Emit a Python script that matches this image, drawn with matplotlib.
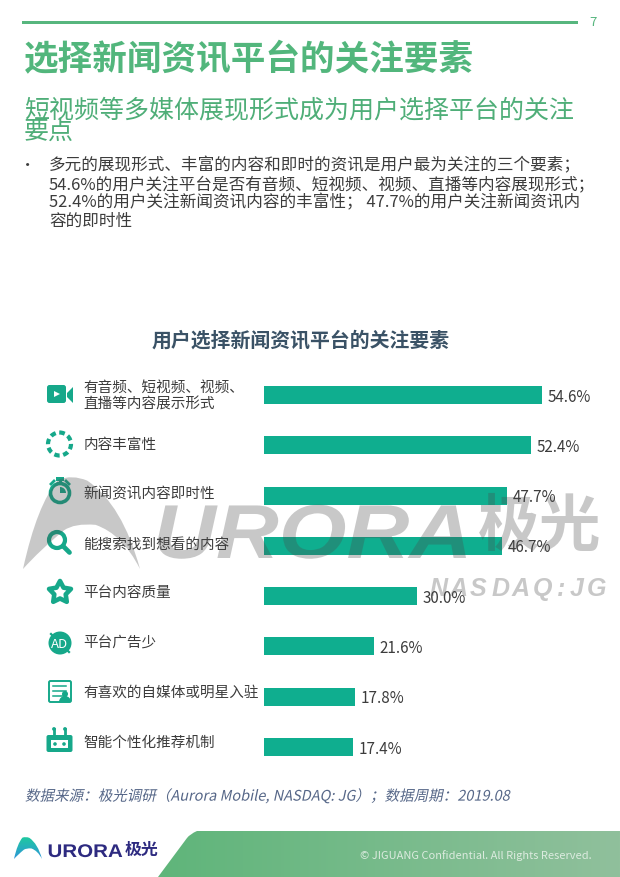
import numpy as np
import matplotlib
matplotlib.use('Agg')
import matplotlib.pyplot as plt
from matplotlib.colors import LinearSegmentedColormap
from matplotlib.patches import Circle, Polygon, PathPatch, FancyBboxPatch, Wedge, Rectangle
from matplotlib.path import Path
from matplotlib.transforms import Affine2D
from matplotlib.patheffects import AbstractPathEffect

plt.rcParams['font.family'] = ['Noto Sans CJK SC', 'DejaVu Sans']

# --------------------------------------------------------------
# Data
categories = ['有音频、短视频、视频、\n直播等内容展示形式', '内容丰富性', '新闻资讯内容即时性', '能搜索找到想看的内容',
              '平台内容质量', '平台广告少', '有喜欢的自媒体或明星入驻', '智能个性化推荐机制']
values = [54.6, 52.4, 47.7, 46.7, 30.0, 21.6, 17.8, 17.4]

title = '选择新闻资讯平台的关注要素'
subtitle = ['短视频等多媒体展现形式成为用户选择平台的关注', '要点']
body = ['多元的展现形式、丰富的内容和即时的资讯是用户最为关注的三个要素；',
        '54.6%的用户关注平台是否有音频、短视频、视频、直播等内容展现形式；',
        '52.4%的用户关注新闻资讯内容的丰富性； 47.7%的用户关注新闻资讯内',
        '容的即时性']
chart_title = '用户选择新闻资讯平台的关注要素'
source = '数据来源：极光调研（Aurora Mobile, NASDAQ: JG）；数据周期：2019.08'
copyright_text = '© JIGUANG Confidential. All Rights Reserved.'

# colours
GREEN = '#57b67e'
BAR = '#0fae8f'
ICON = '#16a88a'
TEXT = '#3c3c3c'


class Slant(AbstractPathEffect):
    # the CJK fonts have no italic, so lean the glyphs
    def draw_path(self, renderer, gc, tpath, affine, rgbFace=None):
        renderer.draw_path(gc, tpath, Affine2D().skew_deg(12, 0) + affine, rgbFace)


class Stretch(AbstractPathEffect):
    # the logo lettering is wider than Liberation Sans
    def __init__(self, sx):
        super().__init__()
        self.sx = sx

    def draw_path(self, renderer, gc, tpath, affine, rgbFace=None):
        renderer.draw_path(gc, tpath, Affine2D().scale(self.sx, 1) + affine, rgbFace)


W, H = 620, 877
fig = plt.figure(figsize=(W / 100, H / 100), dpi=100, facecolor='white')

# page layer in pixel coordinates
page = fig.add_axes([0, 0, 1, 1], zorder=0)
page.axis('off')

# --------------------------------------------------------------
# Header
page.add_patch(Rectangle((22, 20.5), 556, 3, fc=GREEN, ec='none'))
page.text(593, 23, '7', color=GREEN, fontsize=9.5, ha='center', va='center')
page.text(24, 60, title, color='#52b67c', fontsize=24.9, fontweight='bold', va='center')
page.text(24, 110, subtitle[0], color='#4fae78', fontsize=18, va='center')
page.text(24, 132, subtitle[1], color='#4fae78', fontsize=18, va='center')
page.text(28, 166, '•', color=TEXT, fontsize=11, ha='center', va='center')
for txt, y in zip(body, [166, 185, 203, 221]):
    page.text(49, y, txt, color=TEXT, fontsize=11.95, va='center')
page.text(301, 340, chart_title, color='#3a5266', fontsize=14.3, fontweight='bold', ha='center', va='center')

# --------------------------------------------------------------
# Bars
px_per_pct = 5.09
y_top, y_step = 395, 50.29
ax = fig.add_axes([264 / W, 1 - (y_top + 7.5 * y_step) / H, 60 * px_per_pct / W, 8 * y_step / H], zorder=1)
ax.patch.set_alpha(0)
ypos = np.arange(len(values))
ax.barh(ypos, values, height=18 / y_step, color=BAR)
ax.set_xlim(0, 60)
ax.set_ylim(7.5, -0.5)
ax.axis('off')
for i, v in enumerate(values):
    ax.annotate(f'{v:.1f}%', (v, i), xytext=(4.3, -1.5), textcoords='offset points', color=TEXT,
                fontsize=10.9, va='center', annotation_clip=False)

# category labels
label_y = [396, 444.5, 494.5, 544.5, 593.5, 643.5, 692.5, 742.5]
for txt, y in zip(categories, label_y):
    page.text(83.5, y, txt, color=TEXT, fontsize=10.5, va='center', linespacing=1.2)

# --------------------------------------------------------------
# Icons
# video
page.add_patch(FancyBboxPatch((47, 385), 19, 18, boxstyle='round,pad=0,rounding_size=2.5', fc=ICON, ec='none'))
page.add_patch(Polygon([(67, 393), (73, 387), (73, 403), (67, 397)], fc=ICON, ec='none'))
page.add_patch(Polygon([(54, 391), (60, 394), (54, 397)], fc='white', ec='none'))
# dashed ring
page.add_patch(Circle((59.5, 444), 11.5, fc='none', ec=ICON, lw=3, ls=(0, (1.3, 0.86))))
# stopwatch
page.add_patch(Circle((60, 493), 9.5, fc='none', ec=ICON, lw=2.6))
page.add_patch(Wedge((60, 493), 6, 270, 360, fc=ICON, ec='none'))
page.add_patch(Rectangle((56, 477), 8, 3.5, fc=ICON, ec='none'))
page.add_patch(Rectangle((58.5, 480), 3, 4, fc=ICON, ec='none'))
page.plot([51, 54], [484, 481], color=ICON, lw=2)
page.plot([69, 66], [484, 481], color=ICON, lw=2)
# magnifier
page.add_patch(Circle((57, 540), 8, fc='none', ec=ICON, lw=3))
page.plot([63, 69.5], [546, 552.5], color=ICON, lw=3.4, solid_capstyle='round')
# star
angles = np.deg2rad(np.arange(10) * 36 - 90)
radii = np.where(np.arange(10) % 2 == 0, 11.5, 6)
page.add_patch(Polygon(np.c_[60 + radii * np.cos(angles), 592.5 + radii * np.sin(angles)], fc='none', ec=ICON, lw=3.3, joinstyle='round'))
# AD
page.add_patch(Circle((60, 643), 11.5, fc=ICON, ec='none'))
page.text(59.5, 644, 'AD', color='white', fontsize=9.5, ha='center', va='center')
page.plot([51, 69], [634, 652], color=ICON, lw=1.6)
# profile card
page.add_patch(FancyBboxPatch((49, 681), 22, 21, boxstyle='round,pad=0,rounding_size=1.5', fc='white', ec=ICON, lw=1.4))
for y in [686, 691, 696]:
    page.plot([53, 66], [y, y], color=ICON, lw=1.1)
page.add_patch(Circle((65, 694), 3, fc=ICON, ec='none'))
page.add_patch(Wedge((65, 702), 6, 180, 360, fc=ICON, ec='none'))
# robot
page.add_patch(FancyBboxPatch((46.5, 735), 26, 17, boxstyle='round,pad=0,rounding_size=2', fc=ICON, ec='none'))
page.add_patch(Rectangle((51, 740), 17, 8, fc='white', ec='none'))
page.add_patch(Circle((55, 744), 1.8, fc=ICON, ec='none'))
page.add_patch(Circle((64, 744), 1.8, fc=ICON, ec='none'))
for x in [54, 65]:
    page.plot([x, x], [729, 736], color=ICON, lw=2)
    page.add_patch(Circle((x, 729), 1.9, fc=ICON, ec='none'))

# --------------------------------------------------------------
# Source and footer
page.text(25, 796, source, color='#566788', fontsize=10.47, va='center', path_effects=[Slant()])

gradient = np.linspace(0, 1, 256).reshape(1, -1)
foot_cmap = LinearSegmentedColormap.from_list('foot', ['#5fb57a', '#90c09c'])
im = page.imshow(gradient, extent=(158, 620, 877, 831), cmap=foot_cmap, aspect='auto', zorder=0.5)
foot = Path([(158, 877), (187, 838), (190, 834), (197, 831), (620, 831), (620, 877), (158, 877)],
            [Path.MOVETO, Path.LINETO, Path.CURVE3, Path.CURVE3, Path.LINETO, Path.LINETO, Path.CLOSEPOLY])
im.set_clip_path(PathPatch(foot, transform=page.transData))
page.text(592, 856, copyright_text, color='#dcebdf', fontsize=7.95, ha='right', va='center')


def logo_path(x0, y0, w, h):
    # fin shape with a rounded top and an arched underside
    pts = np.array([(0, 1), (0.12, 0.3), (0.3, 0.03), (0.42, -0.03), (0.55, 0.04), (0.85, 0.3), (1, 1),
                    (0.85, 0.62), (0.62, 0.52), (0.44, 0.5), (0.35, 0.58), (0.14, 0.8), (0, 1), (0, 1)])
    codes = [Path.MOVETO, Path.CURVE3, Path.CURVE3, Path.CURVE3, Path.CURVE3, Path.CURVE3, Path.CURVE3,
             Path.CURVE3, Path.CURVE3, Path.CURVE3, Path.CURVE3, Path.CURVE3, Path.CURVE3, Path.CLOSEPOLY]
    return Path(pts * [w, h] + [x0, y0], codes)


# small logo with blue to teal fade
logo_cmap = LinearSegmentedColormap.from_list('logo', ['#2f93dc', '#1fc9a0'])
logo_im = page.imshow(np.linspace(0, 1, 64).reshape(-1, 1), extent=(14, 42, 860, 837), cmap=logo_cmap,
                      aspect='auto', zorder=0.5, origin='lower')
logo_im.set_clip_path(PathPatch(logo_path(14, 837, 28, 22), transform=page.transData))
page.text(47.5, 857, 'URORA', color='#2d2a80', fontsize=13.2, fontweight='bold', family='Liberation Sans',
          va='baseline', path_effects=[Stretch(1.12)])
page.text(125, 850, '极光', color='#2d2a80', fontsize=12.2, fontweight='bold', va='center')

page.set_xlim(0, W)
page.set_ylim(H, 0)

# --------------------------------------------------------------
# Watermark over everything
mark = fig.add_axes([0, 0, 1, 1], zorder=2)
mark.set_xlim(0, W)
mark.set_ylim(H, 0)
mark.axis('off')
mark.patch.set_alpha(0)
WM = '#4a4a4a'
mark.add_patch(PathPatch(logo_path(23, 477, 117, 92), fc=WM, ec='none', alpha=0.3))
mark.text(153, 558, 'URORA', color=WM, alpha=0.3, fontsize=55, fontweight='bold', style='italic',
          family='Liberation Sans', va='baseline', path_effects=[Stretch(1.14)])
mark.text(478, 527, '极光', color=WM, alpha=0.3, fontsize=44.5, fontweight='bold', va='center')

nasdaq_letters = list('NASDAQ:JG')
nasdaq_x = [430, 450, 470, 492, 512, 533, 557, 570, 587]
for ch, x in zip(nasdaq_letters, nasdaq_x):
    mark.text(x, 596, ch, color=WM, alpha=0.3, fontsize=18, fontweight='bold', style='italic',
              family='Liberation Sans', va='baseline')

fig.savefig('out.png', dpi=100)
